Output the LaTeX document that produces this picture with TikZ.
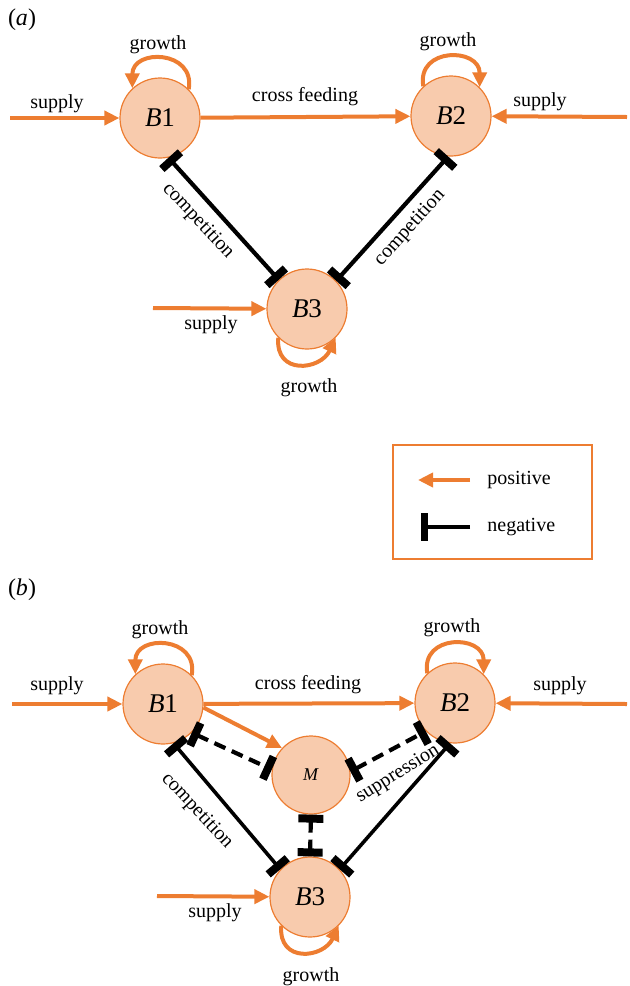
\documentclass[tikz,border=0pt]{standalone}
\usepackage{fontspec}
\setmainfont{Liberation Serif}
\usetikzlibrary{arrows.meta}
\definecolor{orng}{RGB}{237,125,49}
\definecolor{lorng}{RGB}{248,203,173}
\tikzset{
  circ/.style={circle, draw=orng, line width=0.6pt, fill=lorng, minimum size=40pt, inner sep=0pt, font=\fontsize{13.5}{15}\selectfont},
  lbl/.style={font=\fontsize{10}{12}\selectfont, inner sep=1pt},
  panel/.style={font=\fontsize{12}{14}\selectfont, inner sep=1pt},
  posarr/.style={draw=orng, line width=2pt, -{Triangle[length=7.5pt,width=7pt]}},
  negarr/.style={draw=black, line width=2.1pt, {Rectangle[length=4pt,width=12.5pt]}-{Rectangle[length=4pt,width=12.5pt]}},
  negdash/.style={negarr, dash pattern=on 6pt off 3.5pt},
}
\begin{document}
\begin{tikzpicture}[x=0.5pt,y=0.5pt]
\useasboundingbox (0,0) rectangle (629,-986);
% ---------------- panel (a) ----------------
\node[panel] (pa) at (22,-20) {(\textit{a})};
\node[circ] (B1a) at (160,-118) {\textit{B}1};
\node[circ] (B2a) at (451,-116) {\textit{B}2};
\node[circ] (B3a) at (307,-309) {\textit{B}3};
\coordinate (sa1) at (10,-118);
\coordinate (sa2) at (627,-117);
\coordinate (sa3) at (153,-308);
\draw[posarr] (sa1) -- (B1a);
\draw[posarr] (sa2) -- (B2a);
\draw[posarr] (sa3) -- (B3a);
\draw[posarr] (B1a) -- (B2a);
\draw[posarr] (B1a.45) .. controls +(80:40) and +(90:40) .. (B1a.133);
\draw[posarr] (B2a.133) .. controls +(100:40) and +(90:40) .. (B2a.45);
\draw[posarr] (B3a.225) .. controls +(265:38) and +(245:36) .. (B3a.315);
\draw[negarr] (B1a.-78) -- (B3a.134);
\draw[negarr] (B2a.-94) -- (B3a.44);
\node[lbl] (ga1) at (158,-45) {growth};
\node[lbl] (ga2) at (448,-42) {growth};
\node[lbl] (ga3) at (309,-388) {growth};
\node[lbl] (spa1) at (57,-104) {supply};
\node[lbl] (spa2) at (540,-102) {supply};
\node[lbl] (spa3) at (211,-325) {supply};
\node[lbl] (cfa) at (305,-97) {cross feeding};
\node[lbl, rotate=-47] (cpa1) at (198,-221) {competition};
\node[lbl, rotate=48] (cpa2) at (410,-228) {competition};
% ---------------- legend ----------------
\node[draw=orng, line width=0.8pt, minimum width=99.5pt, minimum height=57pt, inner sep=0pt] (leg) at (492.5,-502) {};
\coordinate (lp1) at (470,-480);
\coordinate (lp2) at (418,-480);
\coordinate (ln1) at (470,-527);
\coordinate (ln2) at (421,-527);
\draw[posarr] (lp1) -- (lp2);
\draw[line width=2.1pt, -{Rectangle[length=3.5pt,width=14pt]}] (ln1) -- (ln2);
\node[lbl, anchor=west] (lpos) at (485,-480) {positive};
\node[lbl, anchor=west] (lneg) at (485,-527) {negative};
% ---------------- panel (b) ----------------
\node[panel] (pb) at (22,-590) {(\textit{b})};
\node[circ] (B1b) at (163,-704) {\textit{B}1};
\node[circ] (B2b) at (455,-703) {\textit{B}2};
\node[circ, minimum size=39pt, font=\fontsize{9}{11}\selectfont] (Mb) at (311,-775) {\textit{M}};
\node[circ] (B3b) at (310,-897) {\textit{B}3};
\coordinate (sb1) at (12,-704);
\coordinate (sb2) at (627,-704);
\coordinate (sb3) at (157,-896);
\draw[posarr] (sb1) -- (B1b);
\draw[posarr] (sb2) -- (B2b);
\draw[posarr] (sb3) -- (B3b);
\draw[posarr] (B1b) -- (B2b);
\draw[posarr] (B1b.-5) -- (Mb.137);
\draw[posarr] (B1b.45) .. controls +(80:40) and +(90:40) .. (B1b.133);
\draw[posarr] (B2b.133) .. controls +(100:40) and +(90:40) .. (B2b.45);
\draw[posarr] (B3b.225) .. controls +(265:38) and +(245:36) .. (B3b.315);
\draw[negarr, line width=1.8pt] (B1b.-75) -- (B3b.137);
\draw[negarr, line width=1.8pt] (B2b.-97) -- (B3b.43);
\draw[negdash] (B1b.-45) -- (Mb.172);
\draw[negdash] (Mb.5) -- (B2b.224);
\draw[negdash] (Mb.south) -- (B3b.north);
\node[lbl] (gb1) at (160,-630) {growth};
\node[lbl] (gb2) at (452,-628) {growth};
\node[lbl] (gb3) at (311,-977) {growth};
\node[lbl] (spb1) at (57,-686) {supply};
\node[lbl] (spb2) at (560,-686) {supply};
\node[lbl] (spb3) at (215,-913) {supply};
\node[lbl] (cfb) at (308,-685) {cross feeding};
\node[lbl, rotate=-47] (cpb) at (197,-811) {competition};
\node[lbl, rotate=32] (supb) at (398,-774) {suppression};
\end{tikzpicture}
\end{document}
